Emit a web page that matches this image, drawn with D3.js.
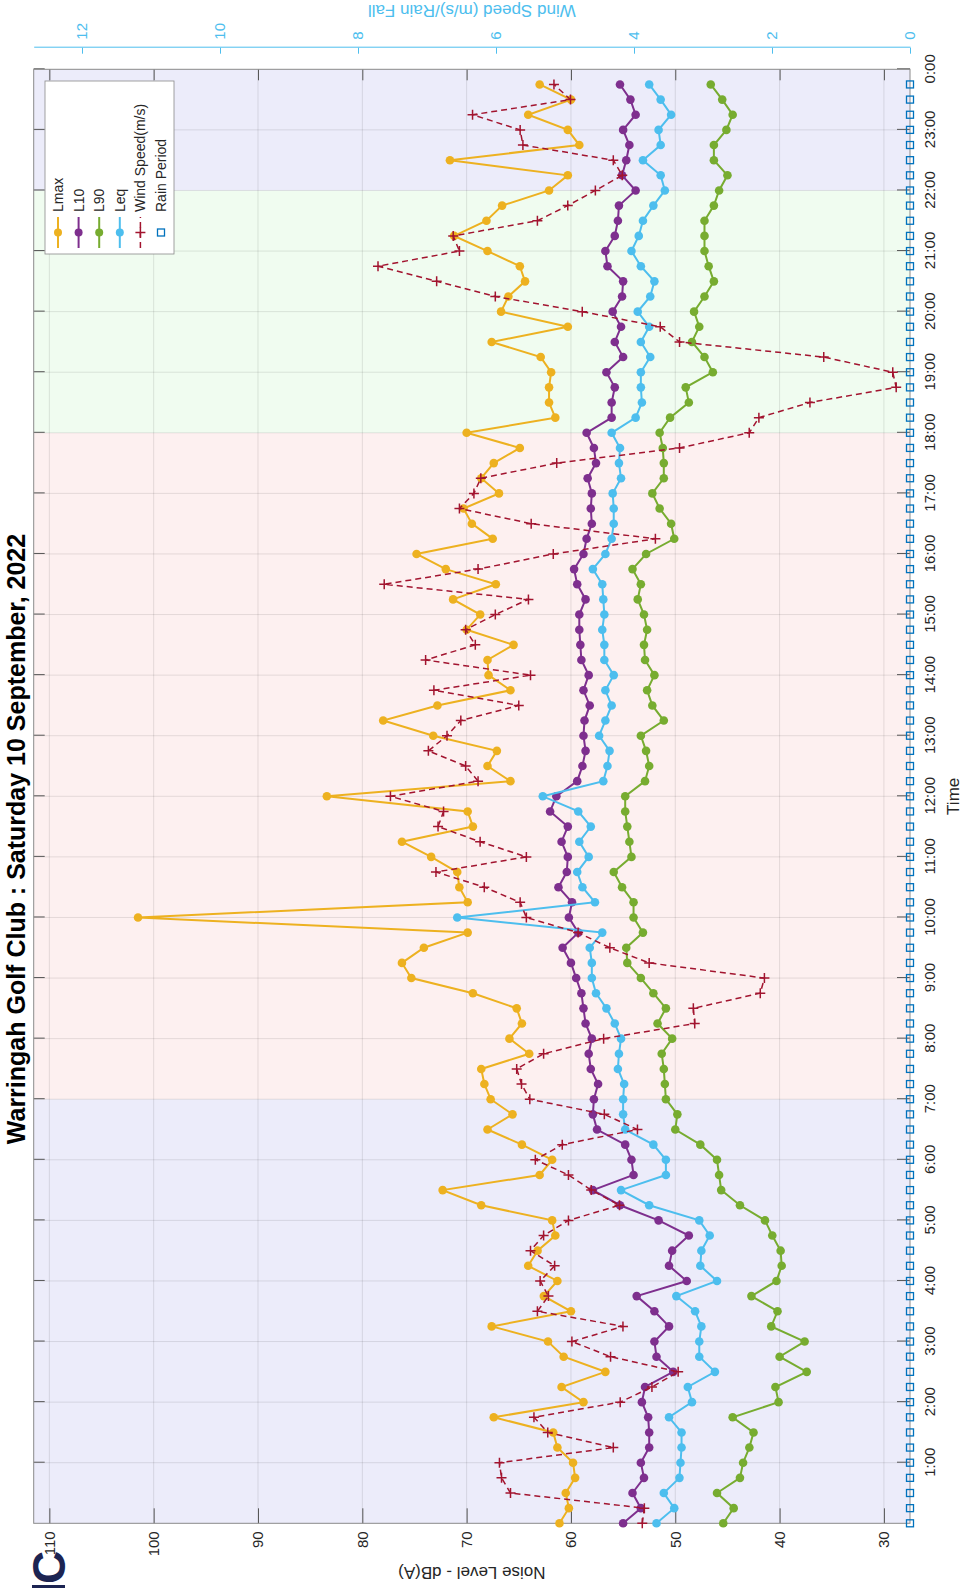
<!DOCTYPE html>
<html>
<head>
<meta charset="utf-8">
<script src="https://cdn.jsdelivr.net/npm/d3@7"></script>
<style>
  html, body { margin: 0; padding: 0; background: #fff; }
  svg { display: block; font-family: "Liberation Sans", Arial, sans-serif; }
</style>
</head>
<body>
<div id="chart"></div>
<script>
// 15 minute readings, 0:00 .. 23:45
const lmax = [
  61.1, 60.2, 60.5, 59.6, 59.8, 61.3, 61.7, 67.4, 58.8, 60.9, 56.7, 60.7,
  62.2, 67.6, 60.0, 62.6, 61.3, 64.1, 63.2, 61.5, 61.8, 68.6, 72.3, 63.0,
  61.8, 64.7, 68.0, 65.6, 67.7, 68.3, 68.6, 64.0, 65.9, 64.7, 65.2, 69.4,
  75.3, 76.2, 74.1, 69.9, 101.5, 69.9, 70.7, 70.9, 73.4, 76.2, 69.4, 69.9,
  83.4, 65.8, 68.0, 67.1, 73.2, 78.0, 72.8, 65.8, 67.9, 68.0, 65.5, 70.0,
  68.7, 71.3, 67.2, 72.0, 74.8, 67.5, 69.5, 70.3, 66.9, 68.6, 67.4, 64.9,
  70.0, 61.5, 62.1, 62.1, 61.9, 62.9, 67.6, 60.3, 66.7, 66.0, 64.4, 64.9,
  68.0, 71.2, 68.1, 66.6, 62.1, 60.3, 71.6, 59.2, 60.3, 64.1, 60.0, 63.0
];
const l10 = [
  55.0, 53.3, 54.1, 53.0, 53.3, 52.5, 52.5, 52.6, 53.2, 52.9, 50.2, 51.8,
  52.0, 50.6, 52.0, 53.7, 48.9, 50.6, 50.3, 48.7, 51.6, 55.3, 57.9, 54.0,
  54.2, 54.8, 57.5, 57.9, 57.8, 57.4, 58.1, 58.3, 58.0, 58.6, 58.8, 59.0,
  59.5, 60.0, 60.8, 59.3, 60.2, 59.9, 61.2, 60.4, 60.3, 60.9, 60.3, 62.0,
  61.4, 59.4, 58.9, 58.6, 58.8, 58.7, 58.2, 58.8, 58.3, 59.0, 59.1, 59.2,
  59.2, 58.6, 59.4, 59.7, 58.8, 58.5, 58.0, 58.1, 58.0, 58.4, 57.6, 57.8,
  58.5, 56.1, 56.1, 55.8, 56.6, 55.0, 55.8, 55.2, 56.0, 55.1, 55.0, 56.5,
  56.7, 55.8, 55.5, 55.4, 53.8, 55.1, 54.7, 54.4, 55.0, 53.8, 54.3, 55.3
];
const l90 = [
  45.4, 44.4, 46.0, 43.8, 43.5, 42.9, 42.5, 44.5, 40.1, 40.4, 37.4, 40.0,
  37.6, 40.8, 40.2, 42.7, 40.3, 39.8, 39.9, 40.7, 41.4, 43.8, 45.6, 45.8,
  46.0, 47.6, 50.0, 49.8, 50.9, 51.0, 51.1, 51.3, 50.3, 51.7, 50.9, 52.1,
  53.3, 54.6, 54.7, 53.1, 54.0, 54.0, 55.1, 55.9, 54.2, 54.4, 54.6, 54.8,
  54.8, 52.9, 52.5, 52.8, 53.3, 51.1, 52.2, 52.7, 52.0, 52.9, 53.0, 52.7,
  53.0, 53.6, 53.3, 54.1, 52.8, 50.1, 50.4, 51.5, 52.2, 51.1, 51.1, 51.2,
  51.5, 50.5, 48.7, 49.0, 46.4, 47.2, 48.4, 47.7, 48.2, 47.2, 46.3, 46.8,
  47.2, 47.2, 47.2, 46.3, 45.8, 45.0, 46.3, 46.3, 45.1, 44.5, 45.5, 46.6
];
const leq = [
  51.8, 50.1, 51.1, 49.6, 49.5, 49.4, 49.4, 50.6, 48.4, 48.8, 46.2, 47.7,
  47.7, 47.5, 48.1, 49.9, 46.0, 47.6, 47.5, 46.7, 47.7, 52.5, 55.2, 50.9,
  50.9, 52.1, 54.8, 55.0, 55.0, 54.9, 55.5, 55.4, 55.2, 55.8, 56.6, 57.6,
  58.0, 58.0, 58.2, 57.0, 70.9, 57.7, 58.9, 59.4, 58.3, 59.2, 58.1, 59.3,
  62.7, 56.9, 56.5, 56.3, 57.3, 56.7, 56.1, 56.7, 55.9, 56.8, 56.8, 57.0,
  56.8, 56.9, 57.0, 57.9, 56.7, 56.1, 55.9, 55.9, 56.0, 55.2, 55.4, 55.3,
  56.1, 53.8, 53.2, 53.3, 53.3, 52.4, 53.3, 52.5, 53.6, 52.4, 52.0, 53.3,
  54.2, 53.5, 53.1, 52.1, 51.0, 51.4, 53.1, 51.4, 51.6, 50.4, 51.4, 52.5
];
const windSpeed = [
  3.88, 3.85, 5.79, 5.92, 5.95, 4.30, 5.25, 5.45, 4.20, 3.74, 3.36, 4.34,
  4.90, 4.16, 5.40, 5.24, 5.36, 5.15, 5.50, 5.31, 4.95, 4.21, 4.62, 4.95,
  5.43, 5.04, 3.95, 4.43, 5.51, 5.63, 5.70, 5.31, 4.44, 3.12, 3.14, 2.17,
  2.11, 3.78, 4.35, 4.81, 5.56, 5.65, 6.17, 6.87, 5.56, 6.23, 6.84, 6.76,
  7.53, 6.26, 6.44, 6.98, 6.71, 6.51, 5.67, 6.90, 5.50, 7.02, 6.30, 6.44,
  6.01, 5.53, 7.62, 6.26, 5.17, 3.69, 5.49, 6.53, 6.32, 6.22, 5.12, 3.34,
  2.33, 2.19, 1.45, 0.20, 0.25, 1.25, 3.34, 3.62, 4.75, 6.01, 6.86, 7.71,
  6.53, 6.62, 5.40, 4.96, 4.56, 4.17, 4.30, 5.61, 5.65, 6.34, 4.92, 5.16
];
const rainPeriod = [
  0, 0, 0, 0, 0, 0, 0, 0, 0, 0, 0, 0, 0, 0, 0, 0, 0, 0, 0, 0, 0, 0, 0, 0,
  0, 0, 0, 0, 0, 0, 0, 0, 0, 0, 0, 0, 0, 0, 0, 0, 0, 0, 0, 0, 0, 0, 0, 0,
  0, 0, 0, 0, 0, 0, 0, 0, 0, 0, 0, 0, 0, 0, 0, 0, 0, 0, 0, 0, 0, 0, 0, 0,
  0, 0, 0, 0, 0, 0, 0, 0, 0, 0, 0, 0, 0, 0, 0, 0, 0, 0, 0, 0, 0, 0, 0, 0
];

const timeTicks = [1, 2, 3, 4, 5, 6, 7, 8, 9, 10, 11, 12, 13, 14, 15, 16, 17, 18, 19, 20, 21, 22, 23, 24];
const timeTickLabels = ["1:00", "2:00", "3:00", "4:00", "5:00", "6:00", "7:00", "8:00", "9:00", "10:00",
  "11:00", "12:00", "13:00", "14:00", "15:00", "16:00", "17:00", "18:00", "19:00", "20:00",
  "21:00", "22:00", "23:00", "0:00"];
const noiseTicks = [30, 40, 50, 60, 70, 80, 90, 100, 110];
const windTicks = [0, 2, 4, 6, 8, 10, 12];

// night / day / evening / night
const periodStart = [0, 7, 18, 22];
const periodEnd = [7, 18, 22, 24];

const title = "Warringah Golf Club :  Saturday 10 September, 2022";

// hours of each reading
const times = lmax.map((d, i) => i / 4);

// the figure is built landscape and then turned a quarter left
const W = 1588, H = 963;
const plot = { left: 64.7, right: 1518.7, top: 33.7, bottom: 910 };
const periodColors = ["#ececfa", "#fdf0f0", "#f0fcf0", "#ececfa"];

const svg = d3.select("#chart").append("svg")
  .attr("width", H)
  .attr("height", W);

const g = svg.append("g")
  .attr("transform", "translate(0," + W + ") rotate(-90)");

const x = d3.scaleLinear().domain([0, 24]).range([plot.left, plot.right]);
const y = d3.scaleLinear().domain([27.5, 111.5]).range([plot.bottom, plot.top]);
const yWind = d3.scaleLinear().domain([0, 12.7]).range([plot.bottom, plot.top]);

// background periods
g.selectAll(".period")
  .data(periodStart)
  .enter().append("rect")
  .attr("class", "period")
  .attr("x", d => x(d))
  .attr("y", plot.top)
  .attr("width", (d, i) => x(periodEnd[i]) - x(d))
  .attr("height", plot.bottom - plot.top)
  .attr("fill", (d, i) => periodColors[i]);

// grid
g.append("g").selectAll("line")
  .data(timeTicks.slice(0, -1))
  .enter().append("line")
  .attr("x1", d => x(d)).attr("x2", d => x(d))
  .attr("y1", plot.top).attr("y2", plot.bottom)
  .attr("stroke", "rgba(0,0,0,0.1)");
g.append("g").selectAll("line")
  .data(noiseTicks)
  .enter().append("line")
  .attr("x1", plot.left).attr("x2", plot.right)
  .attr("y1", d => y(d)).attr("y2", d => y(d))
  .attr("stroke", "rgba(0,0,0,0.1)");

// axes
function styleAxis(sel, color, size) {
  sel.attr("font-family", null).attr("font-size", size);
  sel.selectAll(".tick line").attr("stroke", "#555");
  sel.selectAll(".tick text").attr("fill", color);
  sel.select(".domain").remove();
}

g.append("g")
  .attr("transform", "translate(0," + plot.bottom + ")")
  .call(d3.axisBottom(x).tickValues(timeTicks)
    .tickFormat((d, i) => timeTickLabels[i]).tickSize(-13).tickPadding(14))
  .call(s => styleAxis(s, "#262626", 15));

g.append("g")
  .attr("transform", "translate(0," + plot.top + ")")
  .call(d3.axisTop(x).tickValues(timeTicks).tickFormat("").tickSize(-11))
  .call(s => styleAxis(s, "#262626", 15));

g.append("g")
  .attr("transform", "translate(" + plot.left + ",0)")
  .call(d3.axisLeft(y).tickValues(noiseTicks).tickSize(-15).tickPadding(8))
  .call(s => styleAxis(s, "#262626", 15));

g.append("g")
  .attr("transform", "translate(" + plot.right + ",0)")
  .call(d3.axisRight(y).tickValues(noiseTicks).tickFormat("").tickSize(-11))
  .call(s => styleAxis(s, "#262626", 15));

g.append("rect")
  .attr("x", plot.left).attr("y", plot.top)
  .attr("width", plot.right - plot.left).attr("height", plot.bottom - plot.top)
  .attr("fill", "none").attr("stroke", "#8a8a8a");

// wind axis, set off to the right
const windAxis = g.append("g")
  .attr("transform", "translate(1540.3,0)")
  .call(d3.axisRight(yWind).tickValues(windTicks).tickSize(-6).tickSizeOuter(0).tickPadding(8));
windAxis.attr("font-family", null).attr("font-size", 15);
windAxis.selectAll("line, path").attr("stroke", "#4dbeee");
windAxis.selectAll("text").attr("fill", "#4dbeee");

// noise series
const noiseSeries = [
  { values: lmax, color: "#edb120" },
  { values: l10, color: "#7e2f8e" },
  { values: l90, color: "#77ac30" },
  { values: leq, color: "#4dbeee" }
];
const line = d3.line().x((d, i) => x(times[i])).y(d => y(d));

noiseSeries.forEach(s => {
  const sg = g.append("g");
  sg.append("path")
    .datum(s.values)
    .attr("d", line)
    .attr("fill", "none")
    .attr("stroke", s.color)
    .attr("stroke-width", 2);
  sg.selectAll("circle")
    .data(s.values)
    .enter().append("circle")
    .attr("cx", (d, i) => x(times[i]))
    .attr("cy", d => y(d))
    .attr("r", 4.3)
    .attr("fill", s.color);
});

// wind speed
const windLine = d3.line().x((d, i) => x(times[i])).y(d => yWind(d));
g.append("path")
  .datum(windSpeed)
  .attr("d", windLine)
  .attr("fill", "none")
  .attr("stroke", "#a2142f")
  .attr("stroke-width", 1.5)
  .attr("stroke-dasharray", "6,4");
g.append("g").selectAll("path")
  .data(windSpeed)
  .enter().append("path")
  .attr("transform", (d, i) => "translate(" + x(times[i]) + "," + yWind(d) + ")")
  .attr("d", "M-5,0H5M0,-5V5")
  .attr("stroke", "#a2142f")
  .attr("stroke-width", 1.5);

// rain period
g.append("g").selectAll("rect")
  .data(rainPeriod)
  .enter().append("rect")
  .attr("x", (d, i) => x(times[i]) - 3.5)
  .attr("y", d => yWind(d) - 3.5)
  .attr("width", 7).attr("height", 7)
  .attr("fill", "none")
  .attr("stroke", "#0072bd")
  .attr("stroke-width", 1.3);

// legend
const legendItems = ["Lmax", "L10", "L90", "Leq", "Wind Speed(m/s)", "Rain Period"];
const legendColors = ["#edb120", "#7e2f8e", "#77ac30", "#4dbeee", "#a2142f", "#0072bd"];
const legend = g.append("g").attr("transform", "translate(1334,45)");
legend.append("rect")
  .attr("width", 173).attr("height", 129)
  .attr("fill", "#fff").attr("stroke", "#8a8a8a").attr("stroke-width", 0.8);
legendItems.forEach((name, i) => {
  const row = legend.append("g").attr("transform", "translate(0," + (13 + i * 20.6) + ")");
  const c = legendColors[i];
  if (i < 4) {
    row.append("line").attr("x1", 6).attr("x2", 37).attr("stroke", c).attr("stroke-width", 2);
    row.append("circle").attr("cx", 21.5).attr("r", 4).attr("fill", c);
  } else if (i === 4) {
    row.append("line").attr("x1", 6).attr("x2", 37).attr("stroke", c)
      .attr("stroke-width", 1.5).attr("stroke-dasharray", "6,4");
    row.append("path").attr("d", "M16.5,0H26.5M21.5,-5V5").attr("stroke", c).attr("stroke-width", 1.5);
  } else {
    row.append("rect").attr("x", 18).attr("y", -3.5).attr("width", 7).attr("height", 7)
      .attr("fill", "none").attr("stroke", c).attr("stroke-width", 1.3);
  }
  row.append("text")
    .attr("x", 42).attr("dy", "0.35em")
    .attr("font-size", 14).attr("fill", "#262626")
    .text(name);
});

// labels
g.append("text")
  .attr("x", (plot.left + plot.right) / 2).attr("y", 959)
  .attr("text-anchor", "middle").attr("font-size", 17).attr("fill", "#262626")
  .text("Time");

g.append("text")
  .attr("transform", "translate(21," + (plot.top + plot.bottom) / 2 + ") rotate(-90)")
  .attr("text-anchor", "middle").attr("font-size", 17).attr("fill", "#262626")
  .text("Noise Level - dB(A)");

g.append("text")
  .attr("transform", "translate(1583," + (plot.top + plot.bottom) / 2 + ") rotate(-90)")
  .attr("text-anchor", "middle").attr("font-size", 17).attr("fill", "#4dbeee")
  .text("Wind Speed (m/s)/Rain Fall");

g.append("text")
  .attr("x", 749).attr("y", 25)
  .attr("text-anchor", "middle").attr("font-size", 25).attr("font-weight", "bold")
  .attr("fill", "#000")
  .text(title);

// logo fragment in the corner
g.append("text")
  .attr("x", 4).attr("y", 65)
  .attr("font-size", 46).attr("font-weight", "bold").attr("fill", "#1c2452")
  .text("C");
g.append("rect")
  .attr("x", 0).attr("y", 32).attr("width", 3).attr("height", 33)
  .attr("fill", "#1c2452");
</script>
</body>
</html>
